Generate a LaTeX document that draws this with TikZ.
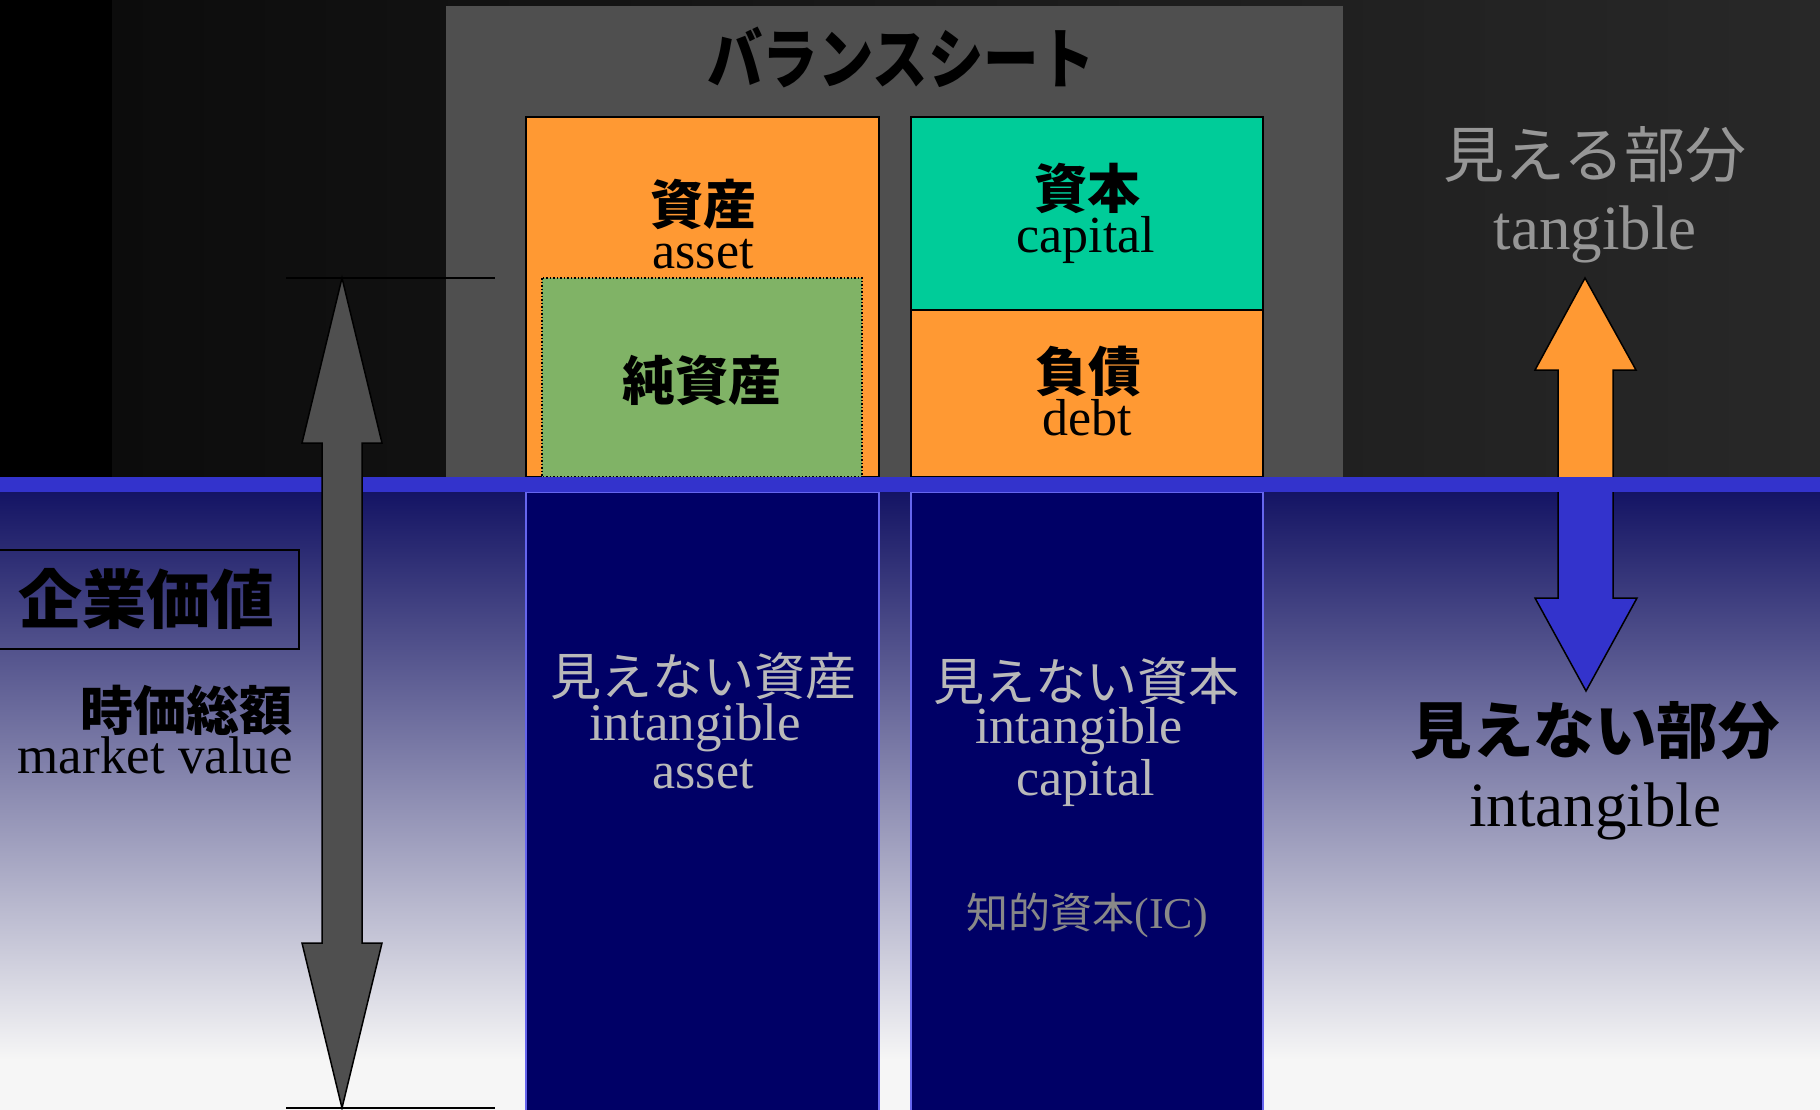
\documentclass[tikz,border=0pt]{standalone}
\usepackage{fontspec}
\setmainfont{Liberation Serif}
\newfontfamily\jpfont{Noto Sans CJK JP}
\newcommand\fsz[1]{\fontsize{#1}{#1}\selectfont}
\definecolor{bsorange}{RGB}{255,153,51}
\definecolor{bsteal}{RGB}{0,204,153}
\definecolor{bsgreen}{RGB}{128,179,102}
\definecolor{bsgray}{RGB}{79,79,79}
\definecolor{bsblue}{RGB}{51,51,204}
\definecolor{bsnavy}{RGB}{0,0,102}
\definecolor{bsedge}{RGB}{102,102,238}
\definecolor{darkleft}{RGB}{12,12,12}
\definecolor{darkright}{RGB}{40,40,40}
\definecolor{skytop}{RGB}{20,20,100}
\definecolor{skymid}{RGB}{140,139,165}
\definecolor{skybot}{RGB}{246,246,246}
\definecolor{seen}{RGB}{150,150,150}
\definecolor{ghost}{RGB}{185,185,185}
\definecolor{icgray}{RGB}{136,136,136}
\tikzset{
  jp/.style={inner sep=0pt, font=\jpfont\bfseries\fsz{#1}},
  jplight/.style={inner sep=0pt, font=\jpfont\fsz{#1}},
  en/.style={inner sep=0pt, anchor=base, font=\fsz{#1}},
  box/.style={draw=black, line width=2pt},
  unseen/.style={fill=bsnavy, draw=bsedge, line width=1.5pt},
  block/.style={draw=black, line width=1.5pt, line join=miter},
}
\begin{document}
\begin{tikzpicture}[x=1pt,y=-1pt]
  \useasboundingbox (0,0) rectangle (1820,1110);
  \fill[black] (0,0) rectangle (112,477);
  \shade[left color=darkleft, right color=darkright] (112,0) rectangle (1820,477);
  \shade[top color=skytop, middle color=skymid, bottom color=skybot] (0,492) rectangle (1820,1060);
  \fill[skybot] (0,1060) rectangle (1820,1110);

  \fill[bsgray] (446,6) rectangle (1343,477);
  \node[jp=66] (title) at (901,57) {\scalebox{0.84}[1]{バランスシート}};

  \draw[box, fill=bsorange] (526,117) rectangle (879,477);
  \draw[black, dotted, line width=1.5pt, fill=bsgreen] (542,278) rectangle (862,477);
  \draw[box, fill=bsteal] (911,117) rectangle (1263,310);
  \draw[box, fill=bsorange] (911,310) rectangle (1263,477);
  \draw[unseen] (526,492) rectangle (879,1115);
  \draw[unseen] (911,492) rectangle (1263,1115);

  \draw[block, fill=bsorange] (1585,278) -- (1636,370) -- (1613,370) -- (1613,485)
    -- (1558,485) -- (1558,370) -- (1535,370) -- cycle;
  \draw[block, fill=bsblue] (1586,691) -- (1637,598) -- (1613,598) -- (1613,485)
    -- (1558,485) -- (1558,598) -- (1535,598) -- cycle;
  \fill[bsblue] (0,477) rectangle (1820,492);

  \draw[block, fill=bsgray] (342,278) -- (382,443) -- (362,443) -- (362,943) -- (382,943)
    -- (342,1108) -- (302,943) -- (322,943) -- (322,443) -- (302,443) -- cycle;
  \draw[line width=1.5pt] (286,278) -- (495,278);
  \draw[line width=1.5pt] (286,1108) -- (495,1108);

  \node[jp=64, draw, line width=2pt, minimum width=306pt, minimum height=99pt] (value) at (146,599) {企業価値};
  \node[jp=53, anchor=east] (cap) at (293,710) {時価総額};
  \node[en=53, anchor=base east] (capEn) at (293,773) {market value};

  \node[jp=53] (asset) at (703,204) {資産};
  \node[en=52] (assetEn) at (703,268) {asset};
  \node[jp=53] (net) at (702,380) {純資産};
  \node[jp=53] (capital) at (1087,188) {資本};
  \node[en=52] (capitalEn) at (1086,252) {capital};
  \node[jp=53] (debt) at (1088,372) {負債};
  \node[en=52] (debtEn) at (1087,435) {debt};

  \node[jplight=51, text=ghost] (ia) at (703,676) {見えない資産};
  \node[en=53, text=ghost] (iaEn) at (695,740) {intangible};
  \node[en=52, text=ghost] (iaEn2) at (703,788) {asset};
  \node[jplight=51, text=ghost] (ic) at (1086,681) {見えない資本};
  \node[en=52, text=ghost] (icEn) at (1079,743) {intangible};
  \node[en=52, text=ghost] (icEn2) at (1086,795) {capital};
  \node[jplight=42, text=icgray] (icShort) at (1087,915) {知的資本{\rmfamily\fsz{44}(IC)}};

  \node[jplight=61, text=seen] (visible) at (1595,155) {見える部分};
  \node[en=63, text=seen] (visibleEn) at (1595,249) {tangible};
  \node[jp=61.5] (invisible) at (1595,731) {見えない部分};
  \node[en=63] (invisibleEn) at (1595,826) {intangible};
\end{tikzpicture}
\end{document}
